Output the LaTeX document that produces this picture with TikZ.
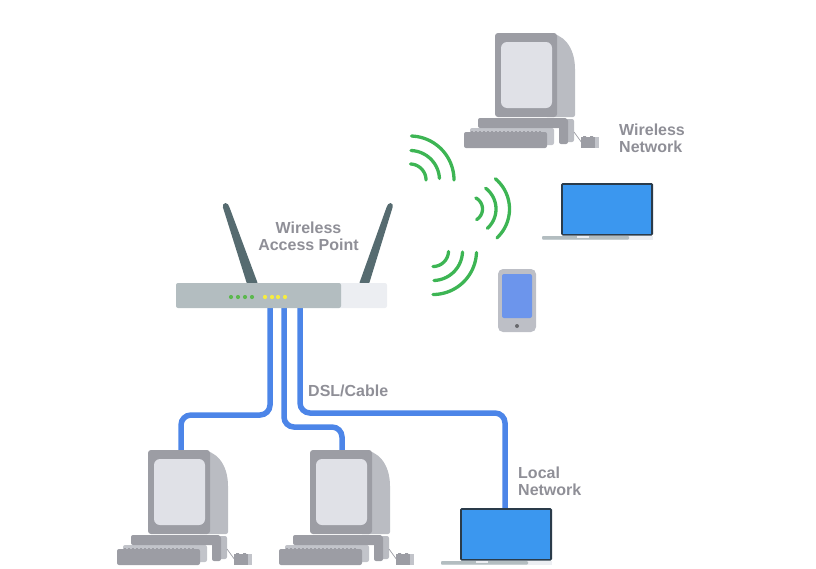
\documentclass[tikz,border=0pt]{standalone}
\usepackage{fontspec}
\setmainfont{Liberation Sans}
\definecolor{mfront}{HTML}{9C9DA4}
\definecolor{mside}{HTML}{BABCC2}
\definecolor{mscreen}{HTML}{E0E1E7}
\definecolor{kshadow}{HTML}{C2C4CA}
\definecolor{rgray}{HTML}{B3BDC0}
\definecolor{rlight}{HTML}{ECEEF2}
\definecolor{ant}{HTML}{566B70}
\definecolor{wave}{HTML}{3DB554}
\definecolor{led}{HTML}{5CB84F}
\definecolor{ledy}{HTML}{F5EC40}
\definecolor{wirec}{HTML}{4C85E8}
\definecolor{lapb}{HTML}{3B97EF}
\definecolor{lapd}{HTML}{2A3B4A}
\definecolor{phoneb}{HTML}{6C95EC}
\definecolor{phoneg}{HTML}{BDBFC6}
\definecolor{label}{HTML}{8F8F97}
\newcommand{\wavearc}[5]{\draw[wavearcstyle] plot[domain=#4:#5,samples=24,smooth] ({#1+#3*cos(\x)},{#2+#3*sin(\x)});}
\tikzset{
  wire/.style={draw=wirec,line width=5.5pt,rounded corners=10pt},
  wavearcstyle/.style={draw=wave,line width=3.3pt,line cap=round},
  lbl/.style={text=label,font=\bfseries\fontsize{16}{17}\selectfont,inner sep=0pt},
  computer/.pic={
    \fill[mside] (50,0) .. controls (68,0) and (80,14) .. (80,36) -- (80,82) [rounded corners=2pt] -- (80,84) -- (50,84) -- cycle;
    \fill[mfront,rounded corners=3pt] (0,0) rectangle (62,84);
    \fill[mscreen,rounded corners=6pt] (6,9) rectangle (57,75);
    \fill[kshadow,rounded corners=2pt] (-25,95) rectangle (59,112);
    \fill[mside,rounded corners=2pt] (70,86) rectangle (79,109);
    \fill[mfront,rounded corners=2pt] (-17,85) rectangle (72,95);
    \fill[mfront,rounded corners=2pt] (64,86) rectangle (73,111);
    \fill[mfront,rounded corners=2pt] (-31,99) rectangle (52,115);
    \draw[mfront,line width=1pt,dash pattern=on 2pt off 2pt] (-24,98.6) -- (46,98.6);
    \draw[mfront,line width=0.7pt] (79,99) -- (87,110);
    \fill[kshadow] (99,104) rectangle (104,115);
    \fill[mfront] (86,104) rectangle (100,115);
    \fill[mfront] (88,103) rectangle (91,105) (95,103) rectangle (98,105);
    \coordinate (-top) at (0,0);
  },
  laptop/.pic={
    \fill[rlight] (-19,53) rectangle (92,56.5);
    \fill[rgray,rounded corners=1pt] (-19,53) rectangle (68,56.5);
    \fill[rlight] (16,53) rectangle (28,55);
    \fill[lapd,rounded corners=1.5pt] (0,0) rectangle (92,52.5);
    \fill[lapb] (1.8,1.8) rectangle (90.2,50.7);
    \coordinate (-top) at (0,0);
  }
}
\begin{document}
\begin{tikzpicture}[x=1pt,y=-1pt]
\useasboundingbox (0,0) rectangle (816,568);
% named attachment points
\coordinate (portA) at (270,308);
\coordinate (portB) at (284,308);
\coordinate (portC) at (300,308);
\coordinate (inA) at (181,452);
\coordinate (inB) at (342,452);
\coordinate (inC) at (505,510);
% wires
\draw[wire] (portA) -- (portA |- 0,415) -- (inA |- 0,415) -- (inA);
\draw[wire] (portB) -- (portB |- 0,427) -- (inB |- 0,427) -- (inB);
\draw[wire] (portC) -- (portC |- 0,413) -- (inC |- 0,413) -- (inC);
% computers
\pic (pcW) at (495,33) {computer};
\pic (pcA) at (148,450) {computer};
\pic (pcB) at (310,450) {computer};
% laptops
\pic (lapW) at (561,183) {laptop};
\pic (lapL) at (460,508) {laptop};
% phone
\fill[phoneg,rounded corners=5pt] (498,269) rectangle (536,332);
\fill[phoneb,rounded corners=2pt] (502,274) rectangle (532,318);
\fill[black!45!phoneg] (517,326) circle (2);
% router
\fill[ant,rounded corners=1.5pt] (222.5,206) -- (224,203) -- (227,203) -- (229,206) -- (258,284) -- (247,284) -- cycle;
\fill[ant,rounded corners=1.5pt] (387,206) -- (389,203) -- (392,203) -- (393,206) -- (369,284) -- (359,284) -- cycle;
\fill[rlight,rounded corners=2pt] (330,283) rectangle (387,308);
\fill[rgray,rounded corners=2pt] (176,283) rectangle (341,308);
\foreach \lx in {231,238,245,252} \fill[led] (\lx,297) circle (2.1);
\foreach \lx in {265,272,278,285} \fill[ledy] (\lx,297) circle (2.1);
% waves
\wavearc{410}{180}{44}{-88}{0}
\wavearc{410}{180}{29.5}{-88}{-3}
\wavearc{410}{180}{16}{-88}{0}
\wavearc{470}{209}{39.5}{-50}{47}
\wavearc{470}{209}{26}{-53}{48}
\wavearc{470}{209}{12.5}{-62}{58}
\wavearc{433}{251}{43.5}{2}{90}
\wavearc{433}{251}{29.5}{2}{88}
\wavearc{433}{251}{15.5}{2}{90}
% labels
\node[lbl,align=center] (lblAP) at (308.5,236) {Wireless\\Access Point};
\node[lbl,align=left,anchor=west] (lblWN) at (619,138) {Wireless\\Network};
\node[lbl,align=left,anchor=west] (lblLN) at (518,481) {Local\\Network};
\node[lbl,anchor=west] (lblDC) at (308,391) {DSL/Cable};
\end{tikzpicture}
\end{document}
